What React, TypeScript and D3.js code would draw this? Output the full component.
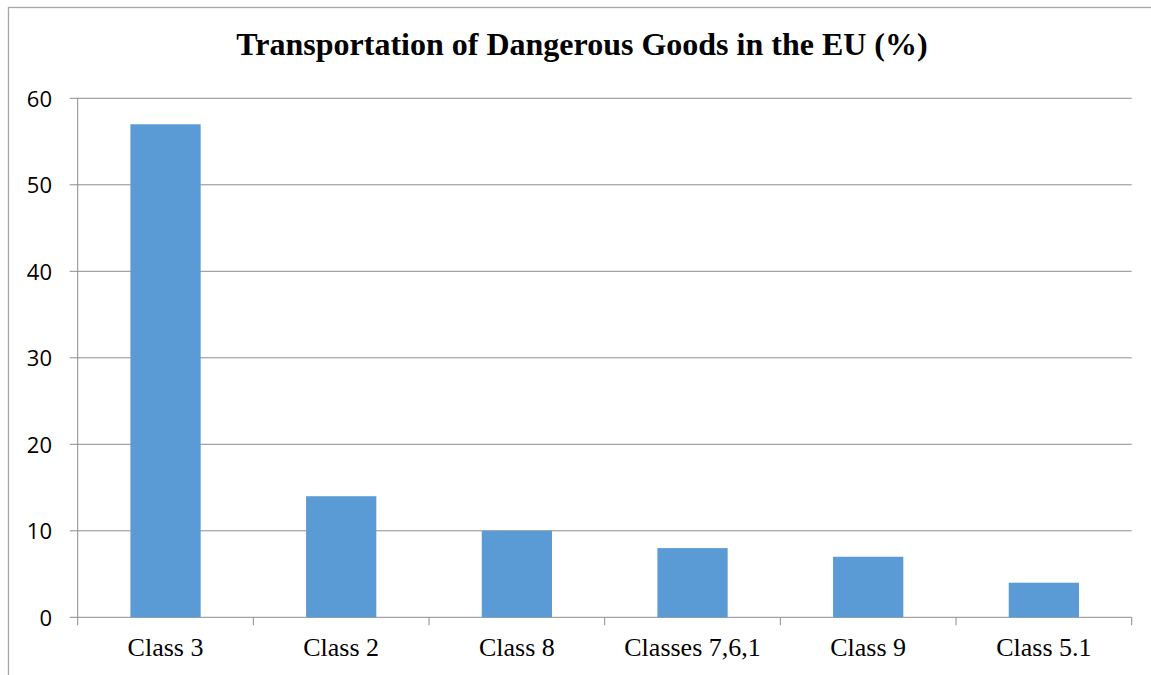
import React, { useEffect, useRef } from 'react'
import * as d3 from 'd3'

const categories = ['Class 3', 'Class 2', 'Class 8', 'Classes 7,6,1', 'Class 9', 'Class 5.1']
const shares = [57, 14, 10, 8, 7, 4]
const yTicks = [0, 10, 20, 30, 40, 50, 60]

export default function App() {
  const ref = useRef<SVGSVGElement>(null)

  useEffect(() => {
    const w = 1151
    const h = 675
    const left = 77.7
    const right = 1131.7
    const top = 98.3
    const bottom = 617.3

    const svg = d3.select(ref.current)
    svg.selectAll('*').remove()

    // chart frame (only top/left visible in the crop)
    svg.append('rect')
      .attr('x', 8.5).attr('y', 7.5)
      .attr('width', w + 10).attr('height', h + 10)
      .attr('fill', 'white')
      .attr('stroke', '#a6a6a6')
      .attr('stroke-width', 1.3)

    svg.append('text')
      .text('Transportation of Dangerous Goods in the EU (%)')
      .attr('x', 582).attr('y', 55)
      .attr('text-anchor', 'middle')
      .attr('font-family', '"Liberation Serif", "Times New Roman", serif')
      .attr('font-weight', 'bold')
      .attr('font-size', 32)
      .attr('fill', '#000')

    const x = d3.scaleBand().domain(categories).range([left, right]).paddingInner(0.6).paddingOuter(0.3)
    const band = d3.scaleBand().domain(categories).range([left, right])
    const y = d3.scaleLinear().domain([0, 60]).range([bottom, top])

    // gridlines
    svg.append('g')
      .selectAll('line')
      .data(yTicks)
      .join('line')
      .attr('x1', left - 8).attr('x2', right)
      .attr('y1', d => y(d)).attr('y2', d => y(d))
      .attr('stroke', '#8c8c8c')
      .attr('stroke-width', 1)

    // bars
    svg.append('g')
      .selectAll('rect')
      .data(shares)
      .join('rect')
      .attr('x', (d, i) => x(categories[i])!)
      .attr('width', x.bandwidth())
      .attr('y', d => y(d))
      .attr('height', d => y(0) - y(d))
      .attr('fill', '#5b9bd5')

    // value axis line
    svg.append('line')
      .attr('x1', left).attr('x2', left)
      .attr('y1', top).attr('y2', bottom)
      .attr('stroke', '#8c8c8c')

    // category ticks
    const edges = categories.map(c => band(c)!).concat([right])
    svg.append('g')
      .selectAll('line')
      .data(edges)
      .join('line')
      .attr('x1', d => d).attr('x2', d => d)
      .attr('y1', bottom).attr('y2', bottom + 8)
      .attr('stroke', '#8c8c8c')

    svg.append('g')
      .selectAll('text')
      .data(yTicks)
      .join('text')
      .text(d => d)
      .attr('x', 52)
      .attr('y', d => y(d) + 8.3)
      .attr('text-anchor', 'end')
      .attr('font-family', '"Open Sans", "Liberation Sans", sans-serif')
      .attr('font-size', 22)
      .attr('fill', '#000')

    svg.append('g')
      .selectAll('text')
      .data(categories)
      .join('text')
      .text(d => d)
      .attr('x', d => band(d)! + band.bandwidth() / 2)
      .attr('y', 656)
      .attr('text-anchor', 'middle')
      .attr('font-family', '"Liberation Serif", "Times New Roman", serif')
      .attr('font-size', 26)
      .attr('fill', '#000')
  })

  return (
    <svg ref={ref} width={1151} height={675}
      style={{ position: 'absolute', top: 0, left: 0, background: 'white' }} />
  )
}
